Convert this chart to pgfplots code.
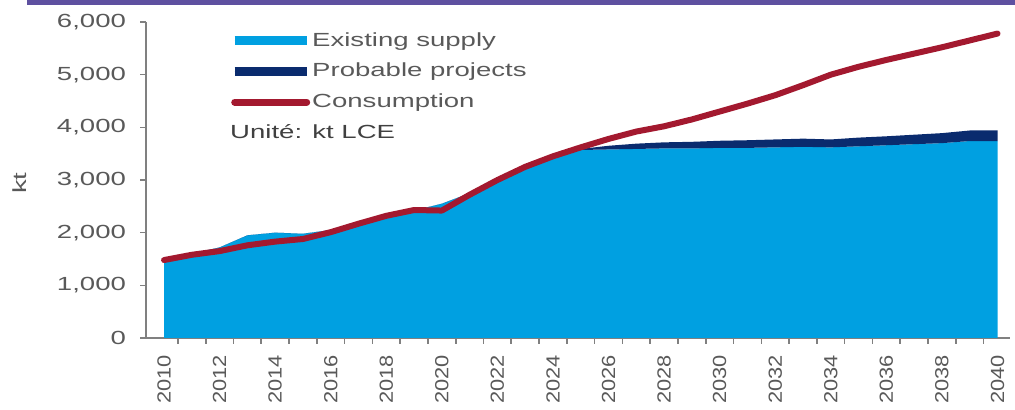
\documentclass[border=0pt]{standalone}
\usepackage{pgfplots}
\pgfplotsset{compat=1.18}
\usepackage{fontspec}
\setmainfont{Liberation Sans}[FakeStretch=1.45]
\newfontfamily\xtickfont{Liberation Sans}[FakeStretch=1.15]
\definecolor{existing}{HTML}{00A0E1}
\definecolor{probable}{HTML}{0A2B6E}
\definecolor{consum}{HTML}{A3192F}
\definecolor{topbar}{HTML}{5E50A0}
\definecolor{axisgray}{HTML}{808080}
\definecolor{labgray}{HTML}{595959}
\begin{document}
\begin{tikzpicture}
\useasboundingbox (-73pt,-36pt) rectangle (434.5pt,169pt);
\fill[topbar] (-59.5pt,166.5pt) rectangle (434.5pt,169pt);
\begin{axis}[
  scale only axis,
  width=432pt, height=158pt,
  xmin=2009.35, xmax=2040.45,
  ymin=0, ymax=6000,
  axis x line*=bottom, axis y line*=left,
  axis line style={axisgray, line width=1pt},
  every tick/.style={axisgray, line width=0.8pt},
  tick align=outside,
  major tick length=3pt, minor tick length=3pt,
  xtick={2010,2012,...,2040},
  x tick style={draw=none},
  minor x tick style={draw=axisgray, line width=0.8pt},
  minor xtick={2010.5,2011.5,...,2040.5},
  ytick={0,1000,...,6000},
  /pgf/number format/assume math mode=true,
  yticklabel style={font=\fontsize{9.5}{11}\selectfont, text=labgray, /pgf/number format/1000 sep={,}},
  yticklabel shift=3.5pt,
  xticklabel style={font=\xtickfont\fontsize{9.5}{11}\selectfont, text=labgray, rotate=90, anchor=east, /pgf/number format/1000 sep={}},
  xticklabel shift=2pt,
  ylabel={kt},
  ylabel style={at={(axis description cs:-0.146,0.49)}, anchor=center, font=\fontsize{9.5}{11}\selectfont, text=labgray},
  legend style={at={(rel axis cs:0.097,0.972)}, anchor=north west, draw=none, fill=none,
    font=\fontsize{9.5}{11}\selectfont, text=labgray, inner sep=0pt, row sep=6pt,
    nodes={inner sep=0.5pt}},
  legend cell align=left,
  clip=false,
]
\addplot[stack plots=y, draw=none, fill=existing,
  legend image code/.code={\draw[existing, line width=4.5pt] (0pt,0pt) -- (36pt,0pt);}]
coordinates {
(2010,1450) (2011,1600) (2012,1720) (2013,1950) (2014,2000) (2015,1980)
(2016,2050) (2017,2150) (2018,2300) (2019,2420) (2020,2550) (2021,2750)
(2022,3000) (2023,3250) (2024,3450) (2025,3570) (2026,3580) (2027,3590)
(2028,3600) (2029,3600) (2030,3610) (2031,3610) (2032,3620) (2033,3630)
(2034,3620) (2035,3640) (2036,3660) (2037,3680) (2038,3700) (2039,3740) (2040,3740)
} \closedcycle;
\addlegendentry{Existing supply}
\addplot[stack plots=y, draw=none, fill=probable,
  legend image code/.code={\draw[probable, line width=4.5pt] (0pt,0pt) -- (36pt,0pt);}]
coordinates {
(2010,0) (2011,0) (2012,0) (2013,0) (2014,0) (2015,0)
(2016,0) (2017,0) (2018,0) (2019,0) (2020,0) (2021,0)
(2022,0) (2023,0) (2024,0) (2025,20) (2026,70) (2027,100)
(2028,115) (2029,125) (2030,135) (2031,145) (2032,150) (2033,155)
(2034,150) (2035,165) (2036,170) (2037,180) (2038,190) (2039,200) (2040,200)
} \closedcycle;
\addlegendentry{Probable projects}
\addplot[stack plots=false, consum, line width=3pt, line join=round, line cap=round,
  legend image code/.code={\draw[consum, line width=3.5pt] (0pt,0pt) -- (36pt,0pt);}]
coordinates {
(2010,1480) (2011,1580) (2012,1650) (2013,1760) (2014,1830) (2015,1880)
(2016,2010) (2017,2170) (2018,2320) (2019,2430) (2020,2420) (2021,2720)
(2022,3000) (2023,3250) (2024,3450) (2025,3620) (2026,3780) (2027,3920)
(2028,4020) (2029,4150) (2030,4300) (2031,4450) (2032,4610) (2033,4800)
(2034,5000) (2035,5150) (2036,5280) (2037,5400) (2038,5520) (2039,5650) (2040,5780)
};
\addlegendentry{Consumption}
\node[anchor=west, font=\fontsize{9.5}{11}\selectfont, text=black!75, inner sep=0pt]
  at (rel axis cs:0.097,0.652) {Unité: kt LCE};
\end{axis}
\end{tikzpicture}
\end{document}
